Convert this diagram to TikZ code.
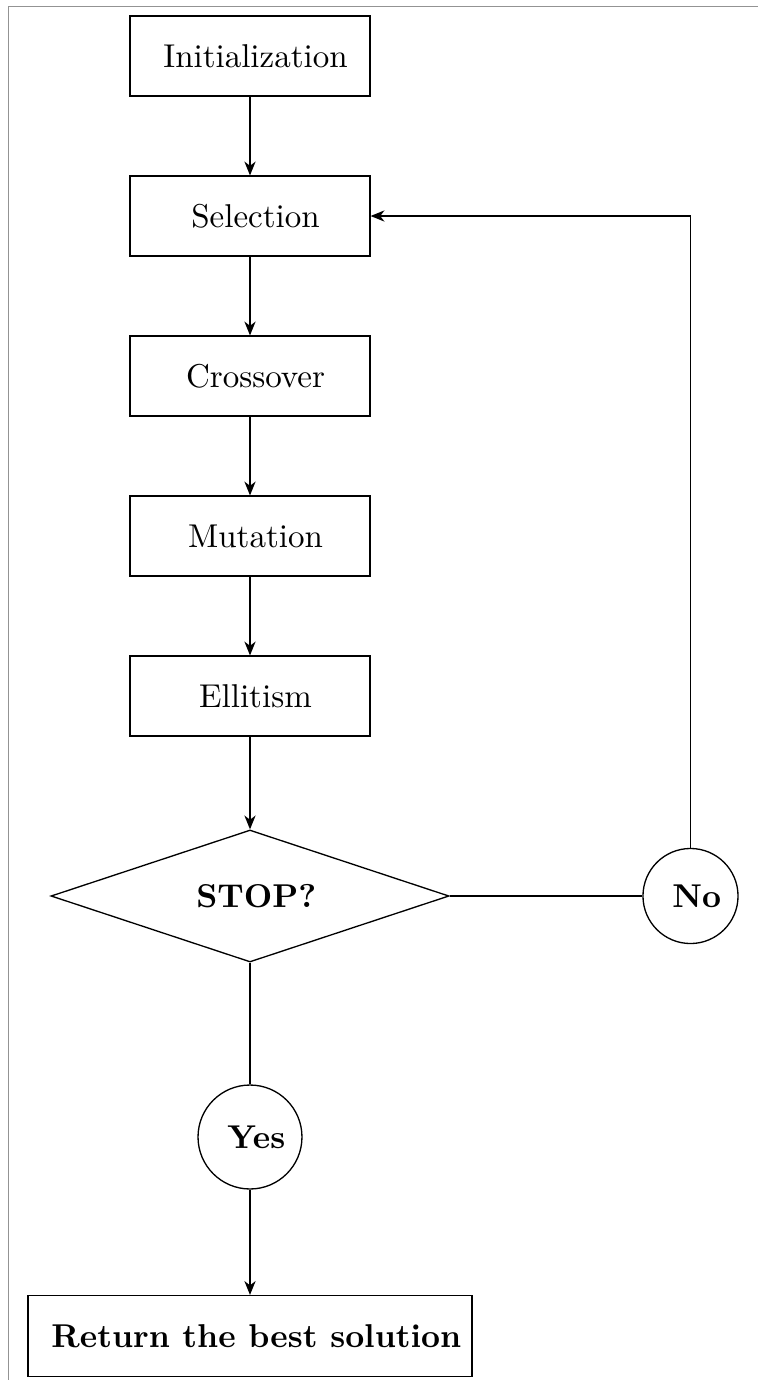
\documentclass[tikz,border=0pt]{standalone}
\usetikzlibrary{shapes.geometric,arrows.meta}
\begin{document}
\begin{tikzpicture}[x=0.303pt,y=-0.303pt,
  stepbox/.style={draw,rectangle,minimum width=72.7pt,minimum height=24.2pt,inner sep=0pt},
  decide/.style={draw,diamond,aspect=3,minimum width=120.6pt,minimum height=40pt,inner sep=0pt,font=\bfseries},
  answer/.style={draw,circle,inner sep=0pt,font=\bfseries},
  arr/.style={-{Stealth[length=4.2pt,width=3.4pt,inset=1.3pt]}},
  frame/.style={draw=gray!85,line width=0.55pt}]
\useasboundingbox (0,0) rectangle (758,1380);
\draw[frame] (8.5,1380) -- (8.5,6.5) -- (758,6.5);
\node[stepbox] (init) at (250,56) {\ Initialization};
\node[stepbox] (sel) at (250,216) {\ Selection};
\node[stepbox] (cross) at (250,376) {\ Crossover};
\node[stepbox] (mut) at (250,536) {\ Mutation};
\node[stepbox] (ell) at (250,696) {\ Ellitism};
\node[decide] (stop) at (250,896) {\ STOP?};
\node[answer,minimum size=28.8pt] (no) at (690.5,896) {\ No};
\node[answer,minimum size=31.5pt] (yes) at (250,1137) {\ Yes};
\node[stepbox,minimum width=134.5pt,minimum height=24.5pt,font=\bfseries] (ret) at (250,1336) {\ Return the best solution};
\coordinate (corner) at (690.5,216);
\draw[arr] (init) -- (sel);
\draw[arr] (sel) -- (cross);
\draw[arr] (cross) -- (mut);
\draw[arr] (mut) -- (ell);
\draw[arr] (ell) -- (stop);
\draw (stop.east) -- (no.west);
\draw[arr] (no) -- (corner) -- (sel);
\draw (stop) -- (yes);
\draw[arr] (yes) -- (ret);
\end{tikzpicture}
\end{document}
